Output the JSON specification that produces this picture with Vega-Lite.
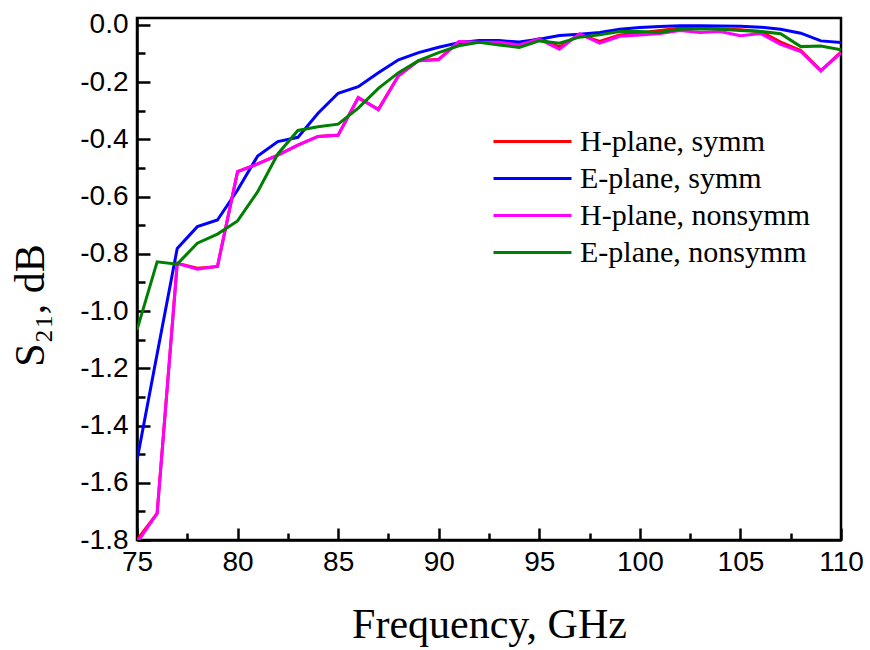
{
  "$schema": "https://vega.github.io/schema/vega-lite/v6.json",
  "autosize": {"type": "none"},
  "padding": {"left": 137, "top": 18, "right": 29, "bottom": 110},
  "width": 704,
  "height": 522,
  "background": "white",
  "config": {
    "view": {"stroke": "black", "strokeWidth": 2.5},
    "axis": {
      "grid": false,
      "domainColor": "black",
      "domainWidth": 2.5,
      "tickColor": "black",
      "tickWidth": 2.5,
      "labelFont": "Liberation Sans",
      "labelFontSize": 28,
      "labelColor": "black",
      "titleFont": "Liberation Serif",
      "titleFontSize": 42,
      "titleFontWeight": "normal",
      "titleColor": "black"
    },
    "legend": {
      "labelFont": "Liberation Serif",
      "labelFontSize": 30,
      "labelColor": "black",
      "labelLimit": 400
    }
  },
  "data": {
    "values": [
      {"f": 75, "hs": -1.800, "es": -1.521, "hn": -1.810, "en": -1.066},
      {"f": 76, "hs": -1.707, "es": -1.150, "hn": -1.707, "en": -0.828},
      {"f": 77, "hs": -0.833, "es": -0.781, "hn": -0.833, "en": -0.836},
      {"f": 78, "hs": -0.850, "es": -0.705, "hn": -0.854, "en": -0.763},
      {"f": 79, "hs": -0.845, "es": -0.682, "hn": -0.843, "en": -0.731},
      {"f": 80, "hs": -0.513, "es": -0.577, "hn": -0.513, "en": -0.685},
      {"f": 81, "hs": -0.486, "es": -0.458, "hn": -0.486, "en": -0.583},
      {"f": 82, "hs": -0.455, "es": -0.408, "hn": -0.455, "en": -0.451},
      {"f": 83, "hs": -0.420, "es": -0.393, "hn": -0.420, "en": -0.369},
      {"f": 84, "hs": -0.390, "es": -0.309, "hn": -0.390, "en": -0.356},
      {"f": 85, "hs": -0.385, "es": -0.239, "hn": -0.386, "en": -0.347},
      {"f": 86, "hs": -0.255, "es": -0.216, "hn": -0.253, "en": -0.291},
      {"f": 87, "hs": -0.295, "es": -0.167, "hn": -0.297, "en": -0.222},
      {"f": 88, "hs": -0.178, "es": -0.122, "hn": -0.178, "en": -0.167},
      {"f": 89, "hs": -0.125, "es": -0.097, "hn": -0.125, "en": -0.125},
      {"f": 90, "hs": -0.120, "es": -0.078, "hn": -0.122, "en": -0.097},
      {"f": 91, "hs": -0.060, "es": -0.062, "hn": -0.058, "en": -0.073},
      {"f": 92, "hs": -0.060, "es": -0.055, "hn": -0.061, "en": -0.061},
      {"f": 93, "hs": -0.062, "es": -0.055, "hn": -0.061, "en": -0.070},
      {"f": 94, "hs": -0.068, "es": -0.060, "hn": -0.070, "en": -0.079},
      {"f": 95, "hs": -0.048, "es": -0.050, "hn": -0.050, "en": -0.056},
      {"f": 96, "hs": -0.077, "es": -0.037, "hn": -0.085, "en": -0.064},
      {"f": 97, "hs": -0.033, "es": -0.033, "hn": -0.031, "en": -0.043},
      {"f": 98, "hs": -0.058, "es": -0.027, "hn": -0.064, "en": -0.035},
      {"f": 99, "hs": -0.035, "es": -0.015, "hn": -0.040, "en": -0.023},
      {"f": 100, "hs": -0.028, "es": -0.009, "hn": -0.035, "en": -0.023},
      {"f": 101, "hs": -0.020, "es": -0.006, "hn": -0.030, "en": -0.027},
      {"f": 102, "hs": -0.012, "es": -0.003, "hn": -0.020, "en": -0.015},
      {"f": 103, "hs": -0.012, "es": -0.003, "hn": -0.027, "en": -0.014},
      {"f": 104, "hs": -0.014, "es": -0.004, "hn": -0.023, "en": -0.015},
      {"f": 105, "hs": -0.017, "es": -0.005, "hn": -0.038, "en": -0.020},
      {"f": 106, "hs": -0.023, "es": -0.008, "hn": -0.030, "en": -0.023},
      {"f": 107, "hs": -0.060, "es": -0.015, "hn": -0.068, "en": -0.031},
      {"f": 108, "hs": -0.090, "es": -0.029, "hn": -0.093, "en": -0.076},
      {"f": 109, "hs": -0.160, "es": -0.056, "hn": -0.161, "en": -0.074},
      {"f": 110, "hs": -0.095, "es": -0.062, "hn": -0.097, "en": -0.087}
    ]
  },
  "transform": [
    {"fold": ["hs", "es", "hn", "en"], "as": ["series", "s21"]}
  ],
  "mark": {"type": "line", "strokeWidth": 3, "clip": true},
  "encoding": {
    "x": {
      "field": "f",
      "type": "quantitative",
      "scale": {"domain": [75, 110], "nice": false, "zero": false},
      "axis": {
        "title": "Frequency, GHz",
        "values": [75, 77.5, 80, 82.5, 85, 87.5, 90, 92.5, 95, 97.5, 100, 102.5, 105, 107.5, 110],
        "labelExpr": "datum.value % 5 === 0 ? datum.label : ''",
        "tickSize": {"condition": {"test": "datum.value % 5 === 0", "value": -12}, "value": -7},
        "labelPadding": 20,
        "labelFlush": false,
        "titleBaseline": "alphabetic",
        "titleY": 97
      }
    },
    "y": {
      "field": "s21",
      "type": "quantitative",
      "scale": {"domain": [-1.8, 0.024], "nice": false, "zero": false},
      "axis": {
        "title": "S₂₁, dB",
        "values": [-1.8, -1.7, -1.6, -1.5, -1.4, -1.3, -1.2, -1.1, -1.0, -0.9, -0.8, -0.7, -0.6, -0.5, -0.4, -0.3, -0.2, -0.1, 0.0],
        "labelExpr": "abs(round(datum.value * 10)) % 2 === 0 ? replace(format(datum.value, '.1f'), '−', '-') : ''",
        "tickSize": {"condition": {"test": "abs(round(datum.value * 10)) % 2 === 0", "value": -13}, "value": -8},
        "labelPadding": 22,
        "labelFlush": false,
        "titleBaseline": "alphabetic",
        "titleAngle": -90,
        "titleX": -94,
        "titleY": 287
      }
    },
    "color": {
      "field": "series",
      "type": "nominal",
      "sort": ["hs", "es", "hn", "en"],
      "scale": {"domain": ["hs", "es", "hn", "en"], "range": ["#ff0000", "#0000ff", "#ff00ff", "#008000"]},
      "legend": {
        "title": null,
        "orient": "none",
        "legendX": 403,
        "legendY": 107,
        "padding": 0,
        "symbolType": "M-4.2,0H1",
        "symbolSize": 900,
        "symbolStrokeWidth": 3,
        "labelOffset": 7,
        "rowPadding": 5,
        "labelExpr": "{'hs': 'H-plane, symm', 'es': 'E-plane, symm', 'hn': 'H-plane, nonsymm', 'en': 'E-plane, nonsymm'}[datum.label]"
      }
    }
  }
}
